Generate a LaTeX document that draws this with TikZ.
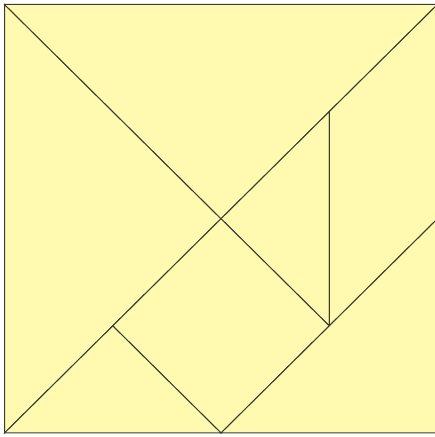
\documentclass[tikz,border=0pt]{standalone}
\definecolor{tanfill}{RGB}{255,250,175}
\definecolor{tanline}{RGB}{60,60,50}
\tikzset{piece/.style={fill=tanfill,draw=tanline,line width=1pt,line join=miter}}
\begin{document}
\begin{tikzpicture}
\useasboundingbox (0,0) rectangle (435pt,437pt);
\begin{scope}[shift={(4.5pt,4pt)},x=108.25pt,y=107.125pt]
\draw[piece] (0,0) -- (0,4) -- (2,2) -- cycle;
\draw[piece] (0,4) -- (4,4) -- (2,2) -- cycle;
\draw[piece] (2,2) -- (3,3) -- (3,1) -- cycle;
\draw[piece] (3,3) -- (4,4) -- (4,2) -- (3,1) -- cycle;
\draw[piece] (2,2) -- (3,1) -- (2,0) -- (1,1) -- cycle;
\draw[piece] (0,0) -- (1,1) -- (2,0) -- cycle;
\draw[piece] (2,0) -- (4,2) -- (4,0) -- cycle;
\end{scope}
\end{tikzpicture}
\end{document}
